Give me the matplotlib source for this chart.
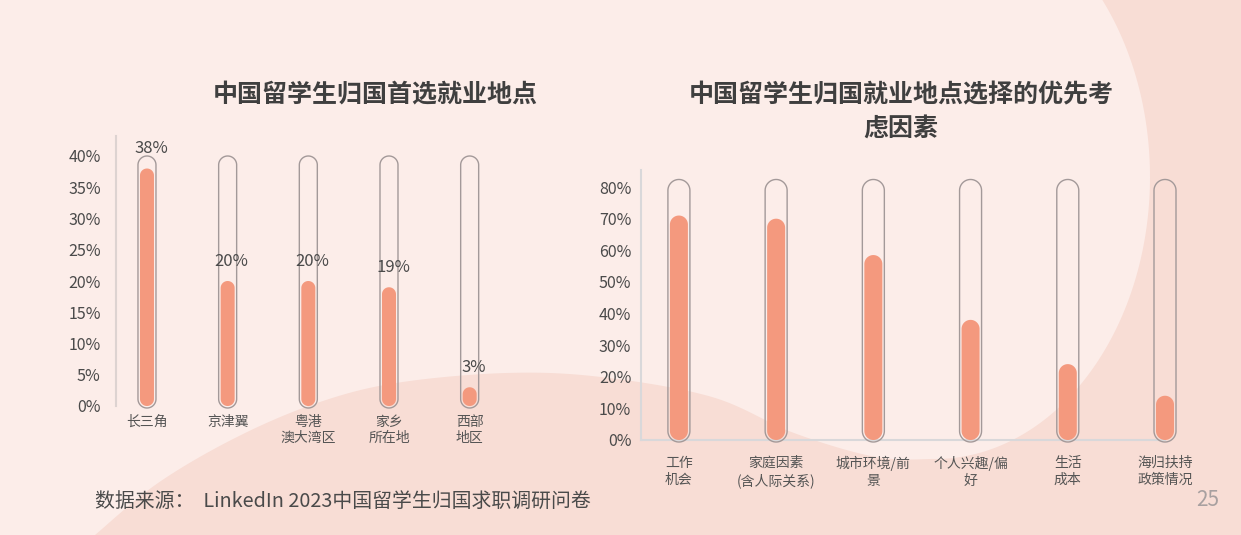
import numpy as np
import matplotlib
matplotlib.use("Agg")
import matplotlib.pyplot as plt
from matplotlib.patches import Polygon

plt.rcParams['font.family'] = ['Noto Sans CJK SC', 'DejaVu Sans']

# ---------------- data ----------------
left_title = "中国留学生归国首选就业地点"
left_categories = ["长三角", "京津翼", "粤港\n澳大湾区", "家乡\n所在地", "西部\n地区"]
left_values = [38, 20, 20, 19, 3]
left_yticks = [0, 5, 10, 15, 20, 25, 30, 35, 40]

right_title = "中国留学生归国就业地点选择的优先考\n虑因素"
right_categories = ["工作\n机会", "家庭因素\n(含人际关系)", "城市环境/前\n景", "个人兴趣/偏\n好", "生活\n成本", "海归扶持\n政策情况"]
right_values = [71, 70, 58.5, 38, 24, 14]
right_yticks = [0, 10, 20, 30, 40, 50, 60, 70, 80]

source_text = "数据来源：  LinkedIn 2023中国留学生归国求职调研问卷"
page_number = "25"

# ---------------- style ----------------
W, H = 1241, 535
BG_LIGHT = "#FCEDE9"
BG_DARK = "#F8DDD5"
BAR = "#F4997E"
TUBE_EDGE = "#A39999"
TEXT = "#4a4a4a"

fig = plt.figure(figsize=(W / 100, H / 100), dpi=100)
fig.patch.set_facecolor(BG_DARK)

# background decoration (pixel space)
bg = fig.add_axes([0, 0, 1, 1], zorder=-5)
bg.set_xlim(0, W)
bg.set_ylim(H, 0)
bg.axis("off")
bg.add_patch(plt.Rectangle((0, 0), W, H, color=BG_DARK, zorder=0))


def catmull(pts, n=20):
    pts = np.asarray(pts, float)
    out = []
    p = np.vstack([pts[0], pts, pts[-1]])
    for i in range(1, len(p) - 2):
        p0, p1, p2, p3 = p[i - 1], p[i], p[i + 1], p[i + 2]
        for t in np.linspace(0, 1, n, endpoint=False):
            t2, t3 = t * t, t * t * t
            out.append(0.5 * ((2 * p1) + (-p0 + p2) * t + (2 * p0 - 5 * p1 + 4 * p2 - p3) * t2
                              + (-p0 + 3 * p1 - 3 * p2 + p3) * t3))
    out.append(pts[-1])
    return np.array(out)


cx, cy, ea, eb = 935, 177, 215, 282
t0 = np.arcsin(-cy / eb)
tt = np.linspace(t0, np.pi / 2, 120)
arc = np.column_stack([cx + ea * np.cos(tt), cy + eb * np.sin(tt)])
wave_pts = [(935, 459), (876, 457), (794, 433), (712, 397), (601, 377), (506, 373),
            (396, 383), (317, 403), (237, 437), (158, 483), (95, 535)]
wave = catmull(wave_pts)
poly = np.vstack([[(0, 0)], arc, wave, [(0, H)]])
bg.add_patch(Polygon(poly, closed=True, facecolor=BG_LIGHT, edgecolor="none", zorder=1))


def capsule(xc, y0, y1, r_px, sx, sy, n=40):
    """Capsule outline with circular ends (pixel-correct) in data coords."""
    rx = r_px / sx
    ry = r_px / sy
    top_c = max(y1 - ry, y0 + ry)
    bot_c = y0 + ry
    a_top = np.linspace(0, np.pi, n)
    a_bot = np.linspace(np.pi, 2 * np.pi, n)
    top = np.column_stack([xc + rx * np.cos(a_top), top_c + ry * np.sin(a_top)])
    bot = np.column_stack([xc + rx * np.cos(a_bot), bot_c + ry * np.sin(a_bot)])
    return np.vstack([top, bot])


def draw_tubes(ax, values, tube_top, bar_px, tube_px):
    x0, x1 = ax.get_xlim()
    y0, y1 = ax.get_ylim()
    bb = ax.get_position()
    sx = bb.width * W / (x1 - x0)
    sy = bb.height * H / (y1 - y0)
    for i, v in enumerate(values):
        pad = (tube_px - bar_px) / 2
        tube = capsule(i, -pad / sy, tube_top, tube_px / 2, sx, sy)
        ax.add_patch(Polygon(tube, closed=True, facecolor="none", edgecolor=TUBE_EDGE,
                             linewidth=1.0, clip_on=False, zorder=3))
        bar = capsule(i, 0, v, bar_px / 2, sx, sy)
        ax.add_patch(Polygon(bar, closed=True, facecolor=BAR, edgecolor="none",
                             clip_on=False, zorder=4))


def style_axes(ax, yticks, ypad, xpad, axis_color, show_bottom):
    for s in ["top", "right"]:
        ax.spines[s].set_visible(False)
    ax.spines["bottom"].set_visible(show_bottom)
    ax.spines["left"].set_color(axis_color)
    ax.spines["left"].set_linewidth(1.5)
    ax.spines["bottom"].set_color(axis_color)
    ax.spines["bottom"].set_linewidth(1.5)
    ax.set_facecolor("none")
    ax.set_yticks(yticks)
    ax.set_yticklabels([f"{t}%" for t in yticks])
    ax.tick_params(axis="y", length=0, pad=ypad, labelsize=11.5, labelcolor=TEXT)
    ax.tick_params(axis="x", length=0, pad=xpad, labelsize=10, labelcolor="#555555")


# ---------------- left chart ----------------
axL = fig.add_axes([116 / W, 1 - 406 / H, (510 - 116) / W, (406 - 136) / H])
axL.set_xlim(-0.384, 4.5)
axL.set_ylim(0, 43.2)
style_axes(axL, left_yticks, 11, 6.5, "#DDD3D1", False)
axL.set_xticks(range(len(left_categories)))
axL.set_xticklabels(left_categories, linespacing=1.15)
draw_tubes(axL, left_values, 40, 14, 18)
for i, v in enumerate(left_values):
    axL.annotate(f"{v}%", (i, v), xytext=(4, 20), textcoords="offset pixels",
                 ha="center", va="center", fontsize=12, color=TEXT, zorder=6)
fig.text(375 / W, 1 - 95 / H, left_title, ha="center", va="center",
         fontsize=18, fontweight="bold", color="#3f3f3f")

# ---------------- right chart ----------------
axR = fig.add_axes([641 / W, 1 - 440 / H, (1165 - 641) / W, (440 - 170) / H])
axR.set_xlim(-0.39, 5)
axR.set_ylim(0, 85.4)
style_axes(axR, right_yticks, 7, 11.5, "#D9D8DA", True)
axR.set_xticks(range(len(right_categories)))
axR.set_xticklabels(right_categories, linespacing=1.25)
draw_tubes(axR, right_values, 82.4, 18, 22)
fig.text(901 / W, 1 - 112 / H, right_title, ha="center", va="center",
         fontsize=18, fontweight="bold", color="#3f3f3f", linespacing=1.5)

# ---------------- footer ----------------
fig.text(95 / W, 1 - 501 / H, source_text, ha="left", va="center",
         fontsize=14.3, color="#4a4a4a", style="italic")
fig.text(1208 / W, 1 - 500 / H, page_number, ha="center", va="center",
         fontsize=15, color="#A8A0A0")

fig.savefig("out.png", dpi=100, facecolor=fig.get_facecolor())
